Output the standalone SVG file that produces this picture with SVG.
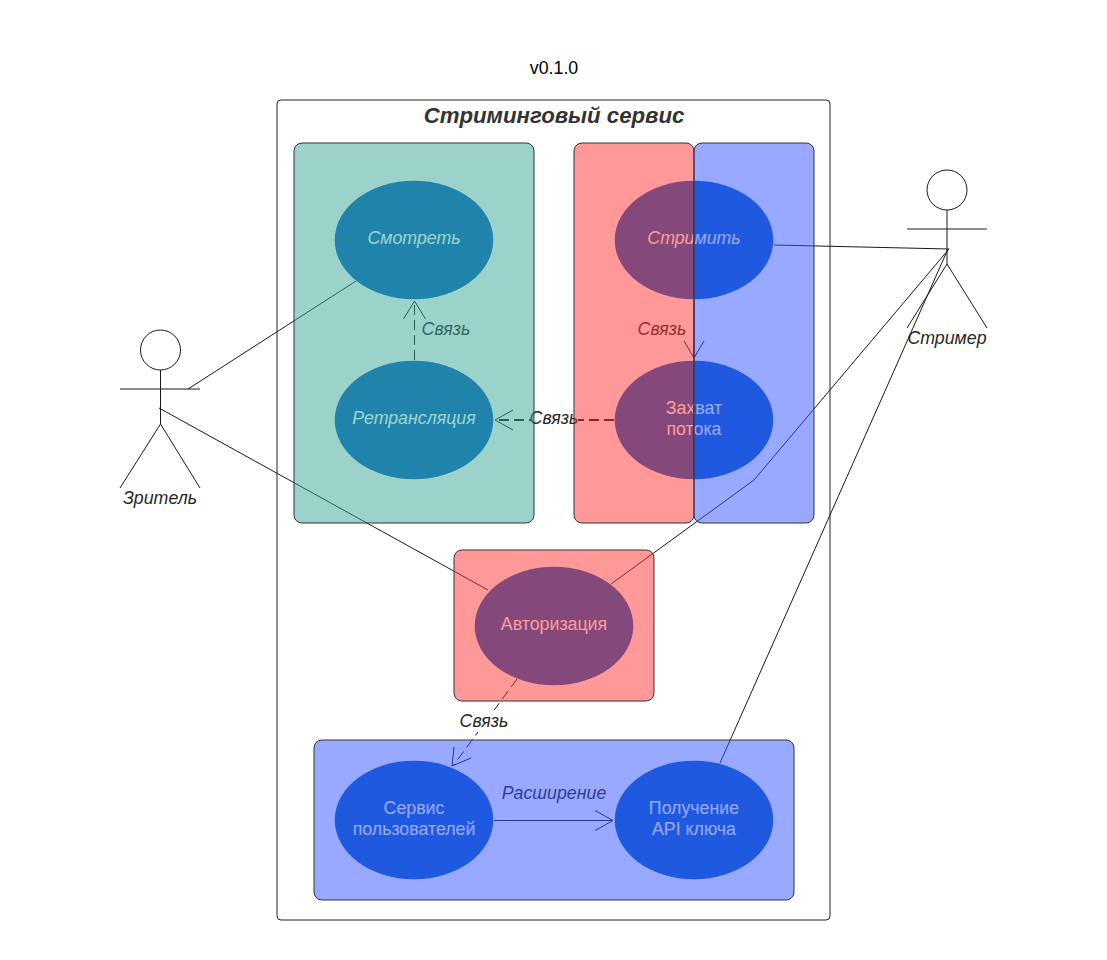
<svg xmlns="http://www.w3.org/2000/svg" width="1107" height="960" viewBox="0 0 1107 960">
<style>
text{font-family:"Liberation Sans",Arial,sans-serif;font-size:17.78px;fill:#282828;text-anchor:middle}
.i{font-style:italic}
.w{fill:#fff}
.c{fill:none;stroke:#1a1a1a;stroke-width:1}
.d{stroke-dasharray:10 5}
.e{fill:#095fc1}
.p{stroke:#333;stroke-width:1;fill-opacity:.5}
.bg{fill:#fff}
</style>
<rect width="1107" height="960" fill="#fff"/>
<text x="554" y="74" style="fill:#000">v0.1.0</text>
<g id="system">
<rect x="277" y="100" width="553" height="820" rx="4" fill="#fff" stroke="#222"/>
<text x="554" y="123" class="i" style="font-size:22.2px;font-weight:bold;fill:#333">Стриминговый сервис</text>
</g>
<g id="viewer" class="c">
<circle cx="160.5" cy="350" r="20"/>
<path d="M160.5 370V424M120 389H200M160.5 424L120 488M160.5 424L200 488"/>
<text x="160" y="503.5" class="i" stroke="none">Зритель</text>
</g>
<g id="streamer" class="c">
<circle cx="947" cy="190" r="20"/>
<path d="M947 210V264M907 229H987M947 264L907 328M947 264L987 328"/>
<text x="947" y="343.5" class="i" stroke="none">Стример</text>
</g>
<g id="connectors">
<path class="c" d="M188 389L356 281"/>
<path class="c" d="M159 408L488 590"/>
<path class="c" d="M774 245L949 249"/>
<path class="c" d="M611 584L754 480L949 249"/>
<path class="c" d="M720 763L948 249"/>
<path class="c d" d="M414.5 360V302"/>
<path class="c" d="M403.5 319L414.5 301L425.5 319"/>
<text x="446" y="334.5" class="i">Связь</text>
<path class="c" d="M694 300V358"/>
<path class="c" d="M684 341L694 358L704 341"/>
<text x="662" y="334.5" class="i">Связь</text>
<path class="c d" style="stroke-width:2" d="M614 420H497"/>
<path class="c" d="M513 410L495 420L513 430"/>
<rect class="bg" x="531" y="408" width="47" height="22"/>
<text x="554" y="424" class="i">Связь</text>
<path class="c d" d="M517 679L453 766"/>
<path class="c" d="M454 747L452 766L471 758"/>
<rect class="bg" x="458" y="710" width="52" height="22"/>
<text x="484" y="726.7" class="i">Связь</text>
<path class="c" d="M494 820.5H613"/>
<path class="c" d="M595 810.5L613 820.5L595 830.5"/>
<text x="554" y="798.7" class="i">Расширение</text>
</g>
<g id="watch"><ellipse class="e" cx="414" cy="240" rx="79.3" ry="59.3"/><text class="i w" x="414" y="243.7">Смотреть</text></g>
<g id="relay"><ellipse class="e" cx="414" cy="420" rx="79.3" ry="59.3"/><text class="i w" x="414" y="423.7">Ретрансляция</text></g>
<g id="stream"><ellipse class="e" cx="694" cy="240" rx="79.3" ry="59.3"/><text class="i w" x="694" y="243.7">Стримить</text></g>
<g id="capture"><ellipse class="e" cx="694" cy="420" rx="79.3" ry="59.3"/><text class="w" x="694" y="413.5">Захват</text><text class="w" x="694" y="434.5">потока</text></g>
<g id="auth"><ellipse class="e" cx="554" cy="626" rx="79.3" ry="59.3"/><text class="w" x="554" y="629.7">Авторизация</text></g>
<g id="users"><ellipse class="e" cx="414" cy="820" rx="79.3" ry="59.3"/><text class="w" x="414" y="813.5">Сервис</text><text class="w" x="414" y="834.5">пользователей</text></g>
<g id="apikey"><ellipse class="e" cx="694" cy="820" rx="79.3" ry="59.3"/><text class="w" x="694" y="813.5">Получение</text><text class="w" x="694" y="834.5">API ключа</text></g>
<g id="panel-teal"><rect class="p" x="294" y="143" width="240" height="380" rx="8" fill="#37a797"/></g>
<g id="panel-red-top"><rect class="p" x="574" y="143" width="120" height="380" rx="8" fill="#ff3333"/></g>
<g id="panel-blue-top"><rect class="p" x="694" y="143" width="120" height="380" rx="8" fill="#3353ff"/></g>
<g id="panel-red-auth"><rect class="p" x="454" y="550" width="200" height="151" rx="8" fill="#ff3333"/></g>
<g id="panel-blue-bottom"><rect class="p" x="314" y="740" width="480" height="160" rx="8" fill="#3353ff"/></g>
</svg>
